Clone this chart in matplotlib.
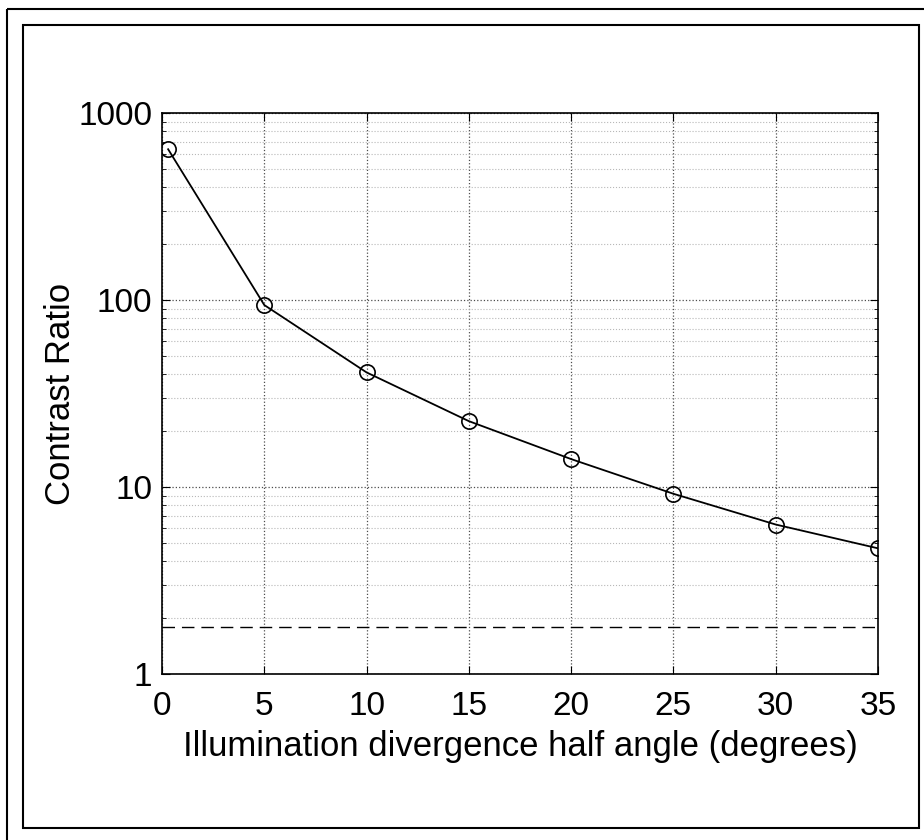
import numpy as np
import matplotlib.pyplot as plt
from matplotlib.patches import Rectangle

# values
angle = [0.3, 5, 10, 15, 20, 25, 30, 35]
contrast = [640, 94, 41, 22.5, 14.1, 9.2, 6.3, 4.7]
baseline = 1.78
x_ticks = [0, 5, 10, 15, 20, 25, 30, 35]
y_ticks = [1, 10, 100, 1000]
y_tick_labels = ['1', '10', '100', '1000']

plt.rcParams['font.family'] = ['Liberation Sans', 'DejaVu Sans']

W, H = 924, 840
fig = plt.figure(figsize=(W / 100, H / 100), dpi=100)

# double frame around the figure
fig.patches.append(Rectangle((7 / W, 1 - 9 / H), 1.0, -1.0, transform=fig.transFigure,
                             fill=False, edgecolor='black', linewidth=1.5))
fig.patches.append(Rectangle((23 / W, 1 - 828 / H), (919 - 23) / W, (828 - 25) / H,
                             transform=fig.transFigure, fill=False,
                             edgecolor='black', linewidth=1.5))

ax = fig.add_axes([162 / W, 1 - 674 / H, (878 - 162) / W, (674 - 113) / H])

ax.plot(angle, contrast, color='black', linewidth=1.3, marker='o', markersize=11,
        markerfacecolor='none', markeredgewidth=1.2)
ax.axhline(baseline, color='black', linewidth=1.0, linestyle=(0, (9, 5)))

ax.set_yscale('log')
ax.set_xlim(0, 35)
ax.set_ylim(1, 1000)
ax.set_xticks(x_ticks)
ax.set_yticks(y_ticks)
ax.set_yticklabels(y_tick_labels)
ax.tick_params(which='major', direction='in', length=6, labelsize=24,
               top=True, right=True, pad=7)
ax.tick_params(which='minor', direction='in', length=3, top=False, right=True)
ax.tick_params(axis='x', pad=12)

ax.grid(True, which='major', linestyle=':', color='0.3', linewidth=0.9)
ax.grid(True, which='minor', axis='y', linestyle=':', color='0.72', linewidth=0.8)

for s in ax.spines.values():
    s.set_linewidth(1.2)

ax.set_xlabel('Illumination divergence half angle (degrees)', fontsize=25, labelpad=6)
ax.set_ylabel('Contrast Ratio', fontsize=25, labelpad=1)

fig.savefig('out.png', dpi=100)
